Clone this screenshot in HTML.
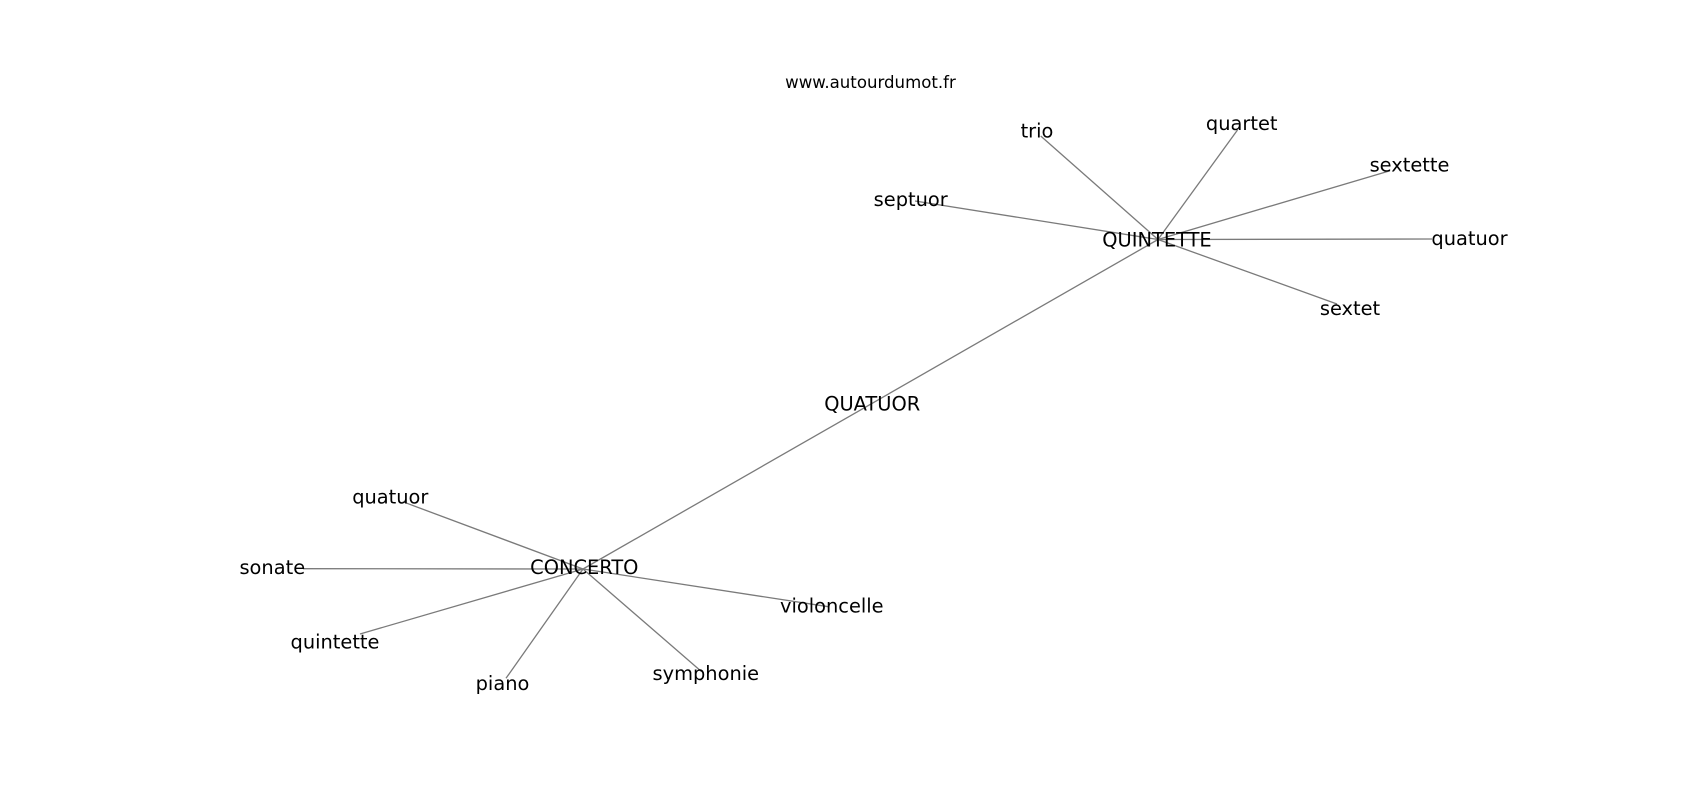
<!DOCTYPE html>
<html>
<head>
<meta charset="utf-8">
<style>
  html, body { margin: 0; padding: 0; background: #ffffff; }
  body { width: 1700px; height: 800px; overflow: hidden; }
  svg { display: block; }
  text { font-family: "DejaVu Sans", "Liberation Sans", sans-serif; fill: #000; }
</style>
</head>
<body>
<svg width="1700" height="800" viewBox="0 0 1700 800" xmlns="http://www.w3.org/2000/svg">
  <rect x="0" y="0" width="1700" height="800" fill="#ffffff"/>
  <g stroke="#7a7a7a" stroke-width="1.3" fill="none" stroke-linecap="butt">
    <!-- QUINTETTE hub -->
    <line x1="1158" y1="239.5" x2="1040.7" y2="136"/>
    <line x1="1158" y1="239.5" x2="1237.5" y2="130"/>
    <line x1="1158" y1="239.5" x2="1390" y2="170.7"/>
    <line x1="1158" y1="239.5" x2="915" y2="201"/>
    <line x1="1158" y1="239.5" x2="1432" y2="239"/>
    <line x1="1158" y1="239.5" x2="1337" y2="304"/>
    <!-- backbone through QUATUOR -->
    <line x1="1158" y1="239.5" x2="583" y2="569"/>
    <!-- CONCERTO hub -->
    <line x1="583" y1="569" x2="402.7" y2="501.7"/>
    <line x1="583" y1="569" x2="303" y2="568.7"/>
    <line x1="583" y1="569" x2="360" y2="634"/>
    <line x1="583" y1="569" x2="506" y2="678.3"/>
    <line x1="583" y1="569" x2="701.7" y2="671.7"/>
    <line x1="583" y1="569" x2="828.3" y2="606.7"/>
  </g>

  <text x="870.5" y="88" font-size="16.6" text-anchor="middle">www.autourdumot.fr</text>

  <g font-size="19.4" text-anchor="middle">
    <text x="1037" y="137.3">trio</text>
    <text x="1241.7" y="130">quartet</text>
    <text x="1409.5" y="171.7">sextette</text>
    <text x="910.7" y="206">septuor</text>
    <text x="1157" y="246.7">QUINTETTE</text>
    <text x="1469.5" y="245">quatuor</text>
    <text x="1350" y="315">sextet</text>
    <text x="872.2" y="410.7">QUATUOR</text>
    <text x="584.3" y="574">CONCERTO</text>
    <text x="390.3" y="503.3">quatuor</text>
    <text x="272.3" y="574">sonate</text>
    <text x="335" y="648.3">quintette</text>
    <text x="502.5" y="690">piano</text>
    <text x="705.8" y="680">symphonie</text>
    <text x="831.8" y="612.7">violoncelle</text>
  </g>
</svg>
</body>
</html>
